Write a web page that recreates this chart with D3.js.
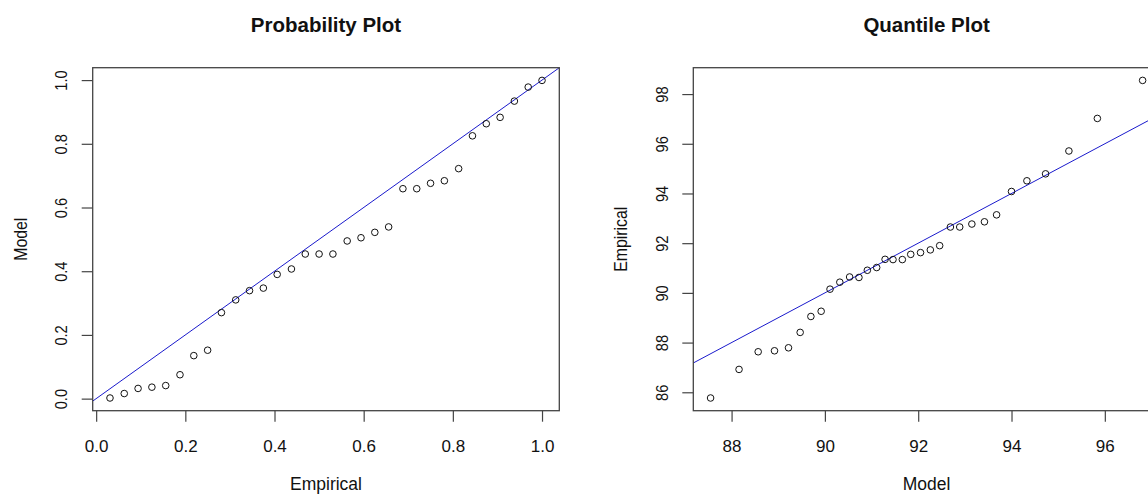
<!DOCTYPE html>
<html>
<head>
<meta charset="utf-8">
<script src="https://cdn.jsdelivr.net/npm/d3@7"></script>
<style>
  html, body { margin: 0; padding: 0; background: #fff; }
  svg { display: block; font-family: "Liberation Sans", Arial, sans-serif; }
</style>
</head>
<body>
<svg id="chart" width="1148" height="497"></svg>
<script>
// ---- Data ----
// Probability plot: empirical probabilities (x) vs model probabilities (y)
const probEmpirical = [0.031, 0.063, 0.094, 0.125, 0.156, 0.188, 0.219, 0.250,
  0.281, 0.313, 0.344, 0.375, 0.406, 0.438, 0.469, 0.500, 0.531, 0.563, 0.594,
  0.625, 0.656, 0.688, 0.719, 0.750, 0.781, 0.813, 0.844, 0.875, 0.906, 0.938,
  0.969, 1.000];
const probModel = [0.002, 0.016, 0.032, 0.036, 0.041, 0.075, 0.135, 0.152,
  0.270, 0.310, 0.339, 0.347, 0.390, 0.407, 0.454, 0.454, 0.454, 0.495, 0.505,
  0.522, 0.539, 0.659, 0.659, 0.676, 0.684, 0.722, 0.825, 0.863, 0.883, 0.934,
  0.978, 0.999];
// Quantile plot: model quantiles (x) vs empirical quantiles (y)
const quantModel = [87.55, 88.16, 88.57, 88.92, 89.22, 89.47, 89.70, 89.92,
  90.11, 90.32, 90.53, 90.73, 90.91, 91.11, 91.29, 91.46, 91.66, 91.84, 92.05,
  92.26, 92.46, 92.69, 92.89, 93.15, 93.42, 93.68, 94.00, 94.33, 94.73, 95.23,
  95.84, 96.81];
const quantEmpirical = [85.77, 86.92, 87.63, 87.67, 87.79, 88.41, 89.05, 89.26,
  90.15, 90.43, 90.64, 90.62, 90.91, 91.02, 91.35, 91.34, 91.34, 91.55, 91.62,
  91.73, 91.90, 92.65, 92.65, 92.77, 92.86, 93.14, 94.08, 94.51, 94.79, 95.71,
  97.02, 98.55];
// Tick labels
const probTicks = [0.0, 0.2, 0.4, 0.6, 0.8, 1.0];
const quantXTicks = [88, 90, 92, 94, 96];
const quantYTicks = [86, 88, 90, 92, 94, 96, 98];
// Text
const titles = ["Probability Plot", "Quantile Plot"];
const xLabels = ["Empirical", "Model"];
const yLabels = ["Model", "Empirical"];

// ---- Layout ----
const svg = d3.select("#chart");
const plotTop = 67.7, plotBottom = 410.7, plotW = 466.6;
const lefts = [92.7, 693.3];

function padded(arr) {
  const [a, b] = d3.extent(arr);
  const p = (b - a) * 0.04;
  return [a - p, b + p];
}

const panels = [
  { xs: probEmpirical, ys: probModel, xt: probTicks, yt: probTicks,
    fmt: d3.format(".1f") },
  { xs: quantModel, ys: quantEmpirical, xt: quantXTicks, yt: quantYTicks,
    fmt: d3.format("d") }
];

panels.forEach((p, i) => {
  const L = lefts[i], R = L + plotW;
  const x = d3.scaleLinear().domain(padded(p.xs)).range([L, R]);
  const y = d3.scaleLinear().domain(padded(p.ys)).range([plotBottom, plotTop]);

  const g = svg.append("g");
  const clipId = "clip" + i;
  g.append("clipPath").attr("id", clipId).append("rect")
    .attr("x", L).attr("y", plotTop).attr("width", plotW).attr("height", plotBottom - plotTop);

  // y = x reference line
  const lo = Math.min(x.domain()[0], y.domain()[0]);
  const hi = Math.max(x.domain()[1], y.domain()[1]);
  g.append("line")
    .attr("clip-path", `url(#${clipId})`)
    .attr("x1", x(lo)).attr("y1", y(lo))
    .attr("x2", x(hi)).attr("y2", y(hi))
    .attr("stroke", "#1a1acc").attr("stroke-width", 1);

  // points
  g.append("g").selectAll("circle")
    .data(p.xs.map((v, k) => [v, p.ys[k]]))
    .join("circle")
    .attr("cx", d => x(d[0])).attr("cy", d => y(d[1]))
    .attr("r", 3.3)
    .attr("fill", "none").attr("stroke", "#111").attr("stroke-width", 1);

  // box
  g.append("rect")
    .attr("x", L).attr("y", plotTop).attr("width", plotW).attr("height", plotBottom - plotTop)
    .attr("fill", "none").attr("stroke", "#444").attr("stroke-width", 1.3);

  // x axis
  const xa = g.append("g").attr("transform", `translate(0,${plotBottom})`)
    .call(d3.axisBottom(x).tickValues(p.xt).tickFormat(p.fmt).tickSize(11));
  xa.select(".domain").remove();
  xa.selectAll(".tick line").attr("stroke", "#444").attr("stroke-width", 1.2);
  xa.selectAll(".tick text")
    .attr("y", 41).attr("dy", null)
    .attr("font-size", 17).attr("fill", "#111")
    .attr("font-family", "Liberation Sans, Arial, sans-serif");

  // y axis
  const ya = g.append("g").attr("transform", `translate(${L},0)`)
    .call(d3.axisLeft(y).tickValues(p.yt).tickFormat(p.fmt).tickSize(11));
  ya.select(".domain").remove();
  ya.selectAll(".tick line").attr("stroke", "#444").attr("stroke-width", 1.2);
  ya.selectAll(".tick text")
    .attr("x", null).attr("dy", null)
    .attr("transform", "translate(-25.4,0) rotate(-90) scale(0.86,1)")
    .attr("text-anchor", "middle")
    .attr("font-size", 17).attr("fill", "#111")
    .attr("font-family", "Liberation Sans, Arial, sans-serif");

  const cx = (L + R) / 2, cy = (plotTop + plotBottom) / 2;
  // title
  svg.append("text")
    .attr("x", cx).attr("y", 32)
    .attr("text-anchor", "middle")
    .attr("font-size", 20.5).attr("font-weight", "bold").attr("fill", "#111")
    .text(titles[i]);
  // x label
  svg.append("text")
    .attr("x", cx).attr("y", 490)
    .attr("text-anchor", "middle")
    .attr("font-size", 17.5).attr("fill", "#111")
    .text(xLabels[i]);
  // y label
  svg.append("text")
    .attr("transform", `translate(${L - 66},${cy}) rotate(-90) scale(0.88,1)`)
    .attr("text-anchor", "middle")
    .attr("font-size", 18).attr("fill", "#111")
    .text(yLabels[i]);
});
</script>
</body>
</html>
